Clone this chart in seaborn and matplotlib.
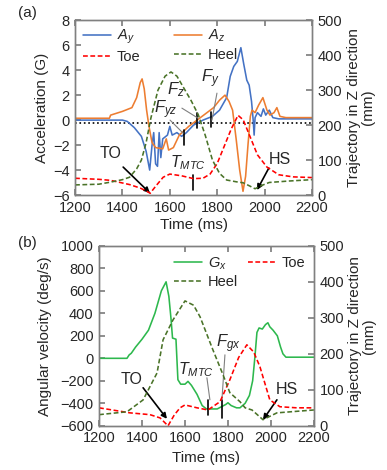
import pandas as pd
import matplotlib
matplotlib.use("Agg")
import matplotlib.pyplot as plt
import seaborn as sns

# ---- data ----
# (a) acceleration, G
ay_t = [1200, 1400, 1420, 1450, 1480, 1500, 1515, 1525, 1532, 1540, 1548, 1555, 1562, 1570,
        1590, 1600, 1610, 1630, 1650, 1670, 1700, 1740, 1780, 1810, 1840, 1855, 1870, 1885,
        1900, 1912, 1925, 1935, 1945, 1952, 1956, 1960, 1970, 1985, 1995, 2005, 2020, 2035,
        2060, 2200]
ay_v = [0.0, 0.0, -0.1, -0.6, -1.3, -2.5, -4.0, -2.0, -1.0, -3.5, -3.7, -1.0, -3.0, -1.5,
        -1.2, -0.5, -1.2, -1.0, -1.3, -1.0, -0.4, 0.0, 0.3, 0.8, 1.8, 3.5, 4.3, 4.7,
        5.8, 4.5, 3.2, 2.8, 1.5, 0.0, -1.2, 0.2, 0.6, 0.3, 0.9, 0.4, 0.8, 0.2,
        0.1, 0.1]

az_t = [1200, 1345, 1350, 1400, 1440, 1460, 1475, 1483, 1492, 1502, 1512, 1525, 1540, 1570,
        1585, 1595, 1615, 1640, 1680, 1715, 1750, 1785, 1810, 1833, 1850, 1865, 1880, 1895,
        1909, 1920, 1930, 1940, 1947, 1960, 1975, 1993, 2010, 2023, 2040, 2052, 2065, 2090,
        2200]
az_v = [0.15, 0.15, 0.4, 0.7, 1.0, 1.8, 3.0, 3.3, 2.5, 0.8, -0.5, -1.8, -2.2, -2.3,
        -1.5, -2.4, -2.2, -1.2, -0.5, 0.0, 0.5, 1.0, 1.6, 2.0, 1.5, 0.8, -1.5, -4.0,
        -5.7, -4.5, -2.0, 0.3, 0.8, 0.6, 1.2, 1.8, 0.8, 0.4, 0.6, 1.0, 0.3, 0.2,
        0.2]

# (a) trajectory in Z, mm
toe_a_t = [1200, 1300, 1350, 1430, 1475, 1500, 1517, 1540, 1572, 1600, 1650, 1700, 1740,
           1770, 1800, 1830, 1860, 1888, 1910, 1940, 1970, 2010, 2060, 2120, 2200]
toe_a_v = [48, 45, 42, 30, 20, 12, 5, 25, 51, 60, 55, 47, 48,
           60, 90, 140, 190, 228, 215, 165, 115, 80, 58, 52, 50]

heel_a_t = [1200, 1300, 1350, 1400, 1430, 1460, 1480, 1500, 1520, 1550, 1580, 1605, 1630,
            1660, 1690, 1720, 1750, 1780, 1810, 1840, 1880, 1910, 1940, 1960, 1990, 2020,
            2100, 2200]
heel_a_v = [29, 31, 37, 44, 51, 75, 100, 150, 220, 300, 340, 352, 340,
            305, 270, 230, 170, 100, 62, 43, 38, 35, 25, 18, 28, 36,
            40, 44]

# (b) angular velocity, deg/s
gx_t = [1200, 1330, 1340, 1350, 1370, 1400, 1430, 1460, 1490, 1512, 1525, 1535, 1542, 1550,
        1558, 1567, 1580, 1600, 1614, 1630, 1656, 1680, 1700, 1750, 1790, 1800, 1815, 1840,
        1856, 1880, 1900, 1915, 1925, 1935, 1945, 1960, 1975, 1986, 1995, 2010, 2030, 2045,
        2056, 2070, 2200]
gx_v = [0, 0, 30, 45, 100, 170, 250, 400, 600, 680, 550, 350, 180, 175,
        170, -190, -230, -230, -205, -240, -320, -420, -450, -450, -410, -395, -420, -440,
        -440, -400, -330, -200, 0, 230, 270, 260, 300, 316, 280, 250, 200, 100,
        40, 10, 10]

# (b) trajectory in Z, mm
toe_b_t = [1200, 1344, 1437, 1484, 1521, 1550, 1577, 1600, 1656, 1707, 1763, 1809, 1850,
           1888, 1920, 1949, 1995, 2042, 2120, 2200]
toe_b_v = [50, 36, 31, 22, 0, 30, 50, 58, 50, 44, 67, 128, 190,
           225, 205, 164, 72, 53, 50, 50]

heel_b_t = [1200, 1330, 1405, 1470, 1498, 1544, 1600, 1640, 1670, 1730, 1777, 1809, 1856,
            1880, 1912, 1963, 2028, 2200]
heel_b_v = [31, 39, 72, 147, 239, 294, 347, 335, 303, 211, 142, 92, 67,
            50, 44, 17, 36, 44]

BLUE = "#4472C4"
ORANGE = "#ED7D31"
RED = "#FF0000"
HEEL = "#4A7328"
GREEN = "#2DB84D"
GRAY = "#808080"
DASH = (0, (3, 1.6))
LW = 1.15

sns.set_theme(style="ticks")
plt.rcParams["font.family"] = ["Liberation Sans", "DejaVu Sans"]
plt.rcParams["mathtext.fontset"] = "custom"
plt.rcParams["mathtext.it"] = "Liberation Sans:italic"
plt.rcParams["mathtext.rm"] = "Liberation Sans"
FS = 10.5
LFS = 11


def style_axes(ax, ax2):
    for a in (ax, ax2):
        for s in a.spines.values():
            s.set_color(GRAY)
            s.set_linewidth(1.0)
        a.tick_params(direction="in", length=4, color=GRAY, labelsize=FS, pad=4)
    ax.tick_params(axis="x", top=True)
    ax.set_xlim(1200, 2200)
    ax.set_xticks(range(1200, 2201, 200))
    ax2.set_ylim(0, 500)
    ax2.set_yticks(range(0, 501, 100))
    ax.set_xlabel("Time (ms)", fontsize=LFS)
    ax2.set_ylabel("Trajectory in Z direction\n(mm)", fontsize=LFS, linespacing=1.0)


def line(ax, t, v, color, ls="-"):
    df = pd.DataFrame({"t": t, "v": v})
    sns.lineplot(data=df, x="t", y="v", ax=ax, color=color, linestyle=ls,
                 linewidth=LW, estimator=None, legend=False)


fig = plt.figure(figsize=(3.87, 4.70), dpi=100)
arrow = dict(arrowstyle="-|>", color="black", lw=1.2, mutation_scale=8, shrinkA=0, shrinkB=0)

# ---------------- (a) ----------------
ax = fig.add_axes([0.194, 0.585, 0.612, 0.372])
ax2 = ax.twinx()
ax.axhline(-0.2, color="black", linestyle=":", linewidth=1.2, zorder=1)
line(ax, ay_t, ay_v, BLUE)
line(ax, az_t, az_v, ORANGE)
line(ax2, toe_a_t, toe_a_v, RED, DASH)
line(ax2, heel_a_t, heel_a_v, HEEL, DASH)
ax.set_ylim(-6, 8)
ax.set_yticks(range(-6, 9, 2))
ax.set_ylabel("Acceleration (G)", fontsize=LFS)
style_axes(ax, ax2)
ax.yaxis.set_label_coords(-0.11, 0.5)
ax.xaxis.set_label_coords(0.5, -0.13)
ax2.yaxis.set_label_coords(1.15, 0.5)

# marker ticks and labels
for x0, y0, y1 in [(1660, -0.8, -2.0), (1715, 0.56, -0.64), (1775, 0.64, -0.56), (1698, -4.4, -5.6)]:
    ax.plot([x0, x0], [y0, y1], color="black", lw=1.2)
ax.plot([1651, 1719], [0.96, 0.16], color=GRAY, lw=0.8)
ax.plot([1799, 1778], [2.16, 0.0], color=GRAY, lw=0.8)
ax.plot([1601, 1656], [0.0, -1.04], color=GRAY, lw=0.8)
ax.text(1626, 2.4, "$F_z$", fontsize=12, ha="center", va="center")
ax.text(1770, 3.3, "$F_y$", fontsize=12, ha="center", va="center")
ax.text(1584, 0.8, "$F_{yz}$", fontsize=12, ha="center", va="center")
ax.text(1677, -3.4, "$T_{MTC}$", fontsize=11.5, ha="center", va="center")
ax.text(1348, -2.64, "TO", fontsize=11.5, ha="center", va="center")
ax.annotate("", xy=(1516, -5.84), xytext=(1403, -3.76), arrowprops=arrow)
ax.text(2065, -3.12, "HS", fontsize=11.5, ha="center", va="center")
ax.annotate("", xy=(1968, -5.6), xytext=(2018, -3.84), arrowprops=arrow)

h = [plt.Line2D([], [], color=BLUE, lw=LW), plt.Line2D([], [], color=RED, lw=LW, ls=DASH),
     plt.Line2D([], [], color=ORANGE, lw=LW), plt.Line2D([], [], color=HEEL, lw=LW, ls=DASH)]
ax.legend(h, ["$A_y$", "Toe", "$A_z$", "Heel"], ncol=2, frameon=False, fontsize=10.5,
          loc="upper left", bbox_to_anchor=(-0.02, 1.03), handlelength=1.9, handletextpad=0.4,
          columnspacing=2.3, labelspacing=0.25)

# ---------------- (b) ----------------
bx = fig.add_axes([0.256, 0.094, 0.555, 0.383])
bx2 = bx.twinx()
line(bx, gx_t, gx_v, GREEN)
line(bx2, toe_b_t, toe_b_v, RED, DASH)
line(bx2, heel_b_t, heel_b_v, HEEL, DASH)
bx.set_ylim(-600, 1000)
bx.set_yticks(range(-600, 1001, 200))
bx.set_ylabel("Angular velocity (deg/s)", fontsize=LFS)
style_axes(bx, bx2)
bx.yaxis.set_label_coords(-0.22, 0.5)
bx.xaxis.set_label_coords(0.5, -0.14)
bx2.yaxis.set_label_coords(1.16, 0.5)

for x0, y0, y1 in [(1707, -369, -502), (1772, -369, -529)]:
    bx.plot([x0, x0], [y0, y1], color="black", lw=1.2)
bx.plot([1702, 1716], [-173, -369], color=GRAY, lw=0.8)
bx.plot([1786, 1772], [31, -369], color=GRAY, lw=0.8)
bx.text(1651, -102, "$T_{MTC}$", fontsize=11.5, ha="center", va="center")
bx.text(1800, 129, "$F_{gx}$", fontsize=12, ha="center", va="center")
bx.text(1353, -191, "TO", fontsize=11.5, ha="center", va="center")
bx.annotate("", xy=(1516, -538), xytext=(1405, -262), arrowprops=arrow)
bx.text(2074, -280, "HS", fontsize=11.5, ha="center", va="center")
bx.annotate("", xy=(1963, -547), xytext=(2028, -369), arrowprops=arrow)

hb = [plt.Line2D([], [], color=GREEN, lw=LW), plt.Line2D([], [], color=HEEL, lw=LW, ls=DASH),
      plt.Line2D([], [], color=RED, lw=LW, ls=DASH)]
bx.legend(hb, ["$G_x$", "Heel", "Toe"], ncol=2, frameon=False, fontsize=10.5,
          loc="upper left", bbox_to_anchor=(0.29, 1.02), handlelength=1.9, handletextpad=0.4,
          columnspacing=0.7, labelspacing=0.25)

fig.text(27 / 387, 1 - 13 / 470, "(a)", fontsize=11, ha="center", va="center")
fig.text(27 / 387, 1 - 243 / 470, "(b)", fontsize=11, ha="center", va="center")

fig.savefig("out.png", dpi=100)
